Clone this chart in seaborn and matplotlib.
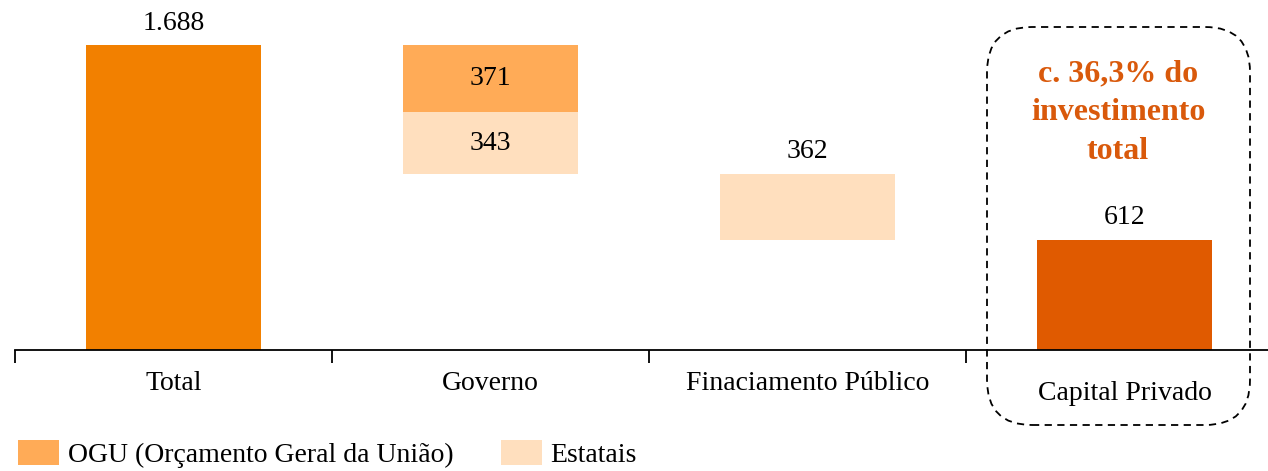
import matplotlib
matplotlib.use("Agg")
import matplotlib.pyplot as plt
from matplotlib.patches import FancyBboxPatch, Patch
from matplotlib.transforms import blended_transform_factory
import pandas as pd
import seaborn as sns

# dados (R$ bilhões)
categories = ["Total", "Governo", "Finaciamento Público", "Capital Privado"]
seg_category = ["Total", "Governo", "Governo", "Finaciamento Público", "Capital Privado"]
seg_name = ["Total", "OGU", "Estatais", "Financiamento", "Privado"]
seg_value = [1688, 371, 343, 362, 612]
seg_bottom = [0, 1317, 974, 612, 0]
legend_labels = ["OGU (Orçamento Geral da União)", "Estatais"]
callout = "c. 36,3% do\ninvestimento\ntotal"

colors = {"Total": "#F28000", "OGU": "#FFAB57", "Estatais": "#FFDFBE",
          "Financiamento": "#FFDFBE", "Privado": "#E05A00"}
label_inside = {"OGU", "Estatais"}

sns.set_style("white")
plt.rcParams["font.family"] = ["Liberation Serif", "DejaVu Serif"]
plt.rcParams["text.color"] = "black"
FS = 20

fig = plt.figure(figsize=(12.68, 4.71), dpi=100)
ax = fig.add_axes([15 / 1268, 121 / 471, 1.0, 343 / 471])

df = pd.DataFrame({"cat": seg_category, "name": seg_name,
                   "value": seg_value, "bottom": seg_bottom})

for _, row in df.iterrows():
    sns.barplot(data=df[df["name"] == row["name"]], x="cat", y="value",
                order=categories, bottom=row["bottom"], color=colors[row["name"]],
                width=0.555, saturation=1, ax=ax, errorbar=None, linewidth=0)
    pos = categories.index(row["cat"])
    txt = f"{row['value']:,}".replace(",", ".")
    if row["name"] in label_inside:
        ax.text(pos, row["bottom"] + row["value"] / 2, txt, ha="center",
                va="center", fontsize=FS)
    else:
        ax.annotate(txt, (pos, row["bottom"] + row["value"]), xytext=(0, 16),
                    textcoords="offset points", ha="center", va="center",
                    fontsize=FS)

ax.set_xlim(-0.5, 3.5)
ax.set_ylim(0, 1900)
ax.set_xlabel("")
ax.set_ylabel("")
ax.set_yticks([])
ax.set_xticks([])
ax.set_xticks([-0.5, 0.5, 1.5, 2.5], minor=True)
ax.tick_params(axis="x", which="minor", direction="out", length=9, width=1.3,
               color="black", bottom=True)
for s in ["top", "right", "left"]:
    ax.spines[s].set_visible(False)
ax.spines["bottom"].set_color("black")
ax.spines["bottom"].set_linewidth(1.3)

trans = blended_transform_factory(ax.transData, ax.transAxes)
for i, cat in enumerate(categories):
    off = -43 if cat == "Capital Privado" else -34
    ax.annotate(cat, (i, 0), xycoords=trans, xytext=(0, off * 0.72),
                textcoords="offset points", ha="center", va="center", fontsize=FS)

# caixa tracejada em destaque
box = FancyBboxPatch((9.87, 0.46), 2.63, 3.98,
                     boxstyle="round,pad=0,rounding_size=0.45",
                     transform=fig.dpi_scale_trans, fill=False,
                     edgecolor="black", linestyle=(0, (4, 3)), linewidth=1.3,
                     clip_on=False)
fig.patches.append(box)
fig.text(1118 / 1268, 1 - 113 / 471, callout, ha="center", va="center",
         fontsize=23, fontweight="bold", color="#D9590B", linespacing=1.45)

handles = [Patch(facecolor=colors["OGU"], edgecolor="none"),
           Patch(facecolor=colors["Estatais"], edgecolor="none")]
fig.legend(handles, legend_labels, loc="lower left",
           bbox_to_anchor=(15 / 1268, 0.0), ncol=2, frameon=False,
           fontsize=FS, handlelength=1.5, handleheight=1.0,
           handletextpad=0.3, columnspacing=1.7, borderpad=0.1,
           borderaxespad=0)

fig.savefig("out.png", dpi=100)
